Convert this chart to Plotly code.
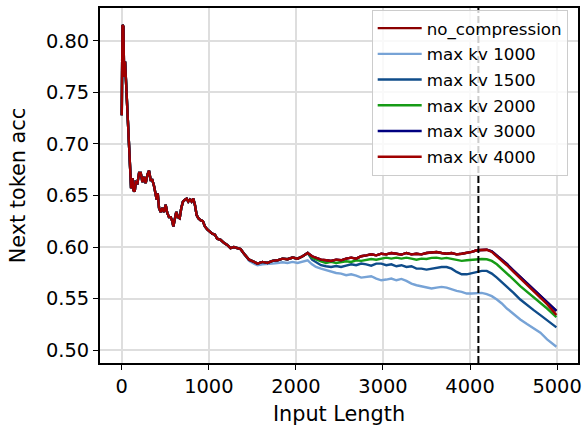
import plotly.graph_objects as go

# ---------------- data ----------------
# shared x-grid (input length)
len_early = [0, 8, 19, 27, 38, 50, 61, 69, 76, 84, 95, 107, 122, 134, 149, 160, 180, 199,
             218, 237, 256, 275, 294, 313, 332, 351, 371, 390, 401, 413, 428, 447, 466, 485,
             504, 523, 542, 562, 581, 592, 607, 626, 646, 665, 684, 703, 726, 745, 764, 783,
             802, 821, 840, 860, 879, 905, 932, 955, 982, 1008, 1039, 1070, 1096, 1135, 1173,
             1211, 1249, 1287, 1326, 1364, 1404]
len_mid = [1462, 1519, 1558, 1615, 1673, 1731, 1788, 1846, 1904, 1962, 2019, 2077, 2135]
len_tail = [2185, 2231, 2288, 2346, 2404, 2462, 2519, 2577, 2635, 2692, 2750, 2808, 2865,
            2923, 2981, 3038, 3096, 3154, 3212, 3269, 3327, 3385, 3442, 3500, 3558, 3615,
            3673, 3731, 3788, 3846, 3904, 3962, 4019, 4077, 4135, 4192, 4250, 4308, 4365,
            4423, 4500, 4577, 4654, 4731, 4808, 4885, 4992]

# accuracy common to every run at short lengths
acc_early = [0.728, 0.8155, 0.814, 0.765, 0.780, 0.756, 0.736, 0.717, 0.710, 0.697, 0.675,
             0.657, 0.667, 0.655, 0.654, 0.663, 0.662, 0.672, 0.672, 0.663, 0.668, 0.662,
             0.670, 0.674, 0.665, 0.665, 0.659, 0.650, 0.646, 0.652, 0.638, 0.634, 0.638,
             0.634, 0.641, 0.633, 0.629, 0.629, 0.625, 0.620, 0.626, 0.634, 0.629, 0.628,
             0.638, 0.644, 0.646, 0.647, 0.644, 0.646, 0.644, 0.647, 0.641, 0.631, 0.628,
             0.626, 0.625, 0.620, 0.617, 0.615, 0.613, 0.612, 0.608, 0.607, 0.604, 0.602,
             0.599, 0.600, 0.599, 0.598, 0.5935]
acc_mid_full = [0.5877, 0.5855, 0.5839, 0.5855, 0.5845, 0.5865, 0.5871, 0.5887, 0.5881,
                0.5897, 0.5887, 0.591, 0.5942]
acc_mid_kv1000 = [0.5865, 0.5839, 0.5823, 0.5832, 0.5832, 0.5839, 0.5845, 0.5852, 0.5845,
                  0.5855, 0.5845, 0.5861, 0.5871]

tail_no_compression = [0.591, 0.5897, 0.5877, 0.5871, 0.5865, 0.5877, 0.5871, 0.5887, 0.5897,
                       0.5887, 0.591, 0.5919, 0.5929, 0.5919, 0.5935, 0.5929, 0.5942, 0.5935,
                       0.5926, 0.5942, 0.5929, 0.5935, 0.5929, 0.5942, 0.5948, 0.5952, 0.5942,
                       0.5935, 0.5942, 0.5929, 0.5935, 0.5942, 0.5952, 0.5968, 0.5968, 0.5974,
                       0.5958, 0.5918, 0.5882, 0.5835, 0.5772, 0.571, 0.5648, 0.5594, 0.5532,
                       0.547, 0.538]
tail_kv1000 = [0.5832, 0.5806, 0.579, 0.5774, 0.5758, 0.5748, 0.5742, 0.5726, 0.5735, 0.5723,
               0.5703, 0.571, 0.5716, 0.5694, 0.5677, 0.5684, 0.5694, 0.5677, 0.569, 0.5671,
               0.5645, 0.5629, 0.5619, 0.5606, 0.5597, 0.5606, 0.5613, 0.5606, 0.5587, 0.5574,
               0.5565, 0.5548, 0.5548, 0.5548, 0.5555, 0.5542, 0.5523, 0.549, 0.5452, 0.5403,
               0.5348, 0.5297, 0.5252, 0.521, 0.5168, 0.5103, 0.5032]
tail_kv1500 = [0.5877, 0.5855, 0.5823, 0.5813, 0.5806, 0.5816, 0.5806, 0.5819, 0.5832, 0.5823,
               0.5839, 0.5832, 0.5819, 0.5839, 0.5839, 0.5823, 0.5832, 0.5813, 0.5823, 0.5806,
               0.5813, 0.579, 0.579, 0.5781, 0.579, 0.58, 0.5806, 0.5806, 0.579, 0.5758,
               0.5735, 0.5735, 0.5748, 0.5758, 0.5768, 0.5768, 0.5742, 0.5703, 0.5661, 0.5613,
               0.5555, 0.549, 0.5435, 0.5387, 0.5339, 0.529, 0.522]
tail_kv2000 = [0.5895, 0.5877, 0.5861, 0.5845, 0.5855, 0.5845, 0.5855, 0.5861, 0.5855, 0.5871,
               0.5865, 0.5877, 0.5884, 0.5877, 0.5887, 0.5897, 0.5887, 0.5897, 0.5887, 0.5897,
               0.5887, 0.5877, 0.5887, 0.5884, 0.5894, 0.5897, 0.5887, 0.5894, 0.5884, 0.5871,
               0.5865, 0.5871, 0.5877, 0.5877, 0.5884, 0.5881, 0.5865, 0.5832, 0.579, 0.5742,
               0.5684, 0.562, 0.5565, 0.5516, 0.5458, 0.5403, 0.532]
tail_kv3000 = list(tail_no_compression)
tail_kv4000 = [0.591, 0.5897, 0.5877, 0.5871, 0.5865, 0.5877, 0.5871, 0.5887, 0.5897, 0.5887,
               0.591, 0.5919, 0.5929, 0.5919, 0.5935, 0.5929, 0.5942, 0.5935, 0.5926, 0.5942,
               0.5929, 0.5935, 0.5929, 0.5942, 0.5948, 0.5952, 0.5942, 0.5935, 0.5942, 0.5929,
               0.5935, 0.5942, 0.5952, 0.5968, 0.5968, 0.5974, 0.5952, 0.591, 0.5871, 0.5823,
               0.5758, 0.5694, 0.5629, 0.5574, 0.551, 0.5445, 0.534]

context_limit = 4096
y_ticks = [0.50, 0.55, 0.60, 0.65, 0.70, 0.75, 0.80]
x_ticks = [0, 1000, 2000, 3000, 4000, 5000]

series_names = ["no_compression", "max kv 1000", "max kv 1500", "max kv 2000",
                "max kv 3000", "max kv 4000"]
series_colors = ["#8b0000", "#77a3d6", "#0f4c8a", "#169b16", "#000080", "#a00000"]

# ---------------- build ----------------
input_length = len_early + len_mid + len_tail
series_values = [
    acc_early + acc_mid_full + tail_no_compression,
    acc_early + acc_mid_kv1000 + tail_kv1000,
    acc_early + acc_mid_full + tail_kv1500,
    acc_early + acc_mid_full + tail_kv2000,
    acc_early + acc_mid_full + tail_kv3000,
    acc_early + acc_mid_full + tail_kv4000,
]
for v in series_values:
    assert len(v) == len(input_length), (len(v), len(input_length))

FONT = "DejaVu Sans"
fig = go.Figure()
for i, (name, col, vals) in enumerate(zip(series_names, series_colors, series_values)):
    fig.add_trace(go.Scatter(x=input_length, y=vals, mode="lines", name=name,
                             legendgroup=f"g{i}",
                             line=dict(color=col, width=2.4)))

fig.add_shape(type="line", xref="x", yref="paper", x0=context_limit, x1=context_limit,
              y0=0, y1=1, line=dict(color="black", width=2, dash="7px,3px"), layer="above")

axis_common = dict(showline=True, linecolor="black", linewidth=2, mirror=True,
                   ticks="outside", ticklen=5, tickwidth=1.3, tickcolor="black",
                   showgrid=True, gridcolor="#dedede", gridwidth=1.5, zeroline=False,
                   tickfont=dict(family=FONT, size=19.4, color="black"), automargin=False)

fig.update_layout(
    width=587, height=433,
    margin=dict(l=100, r=9, t=8, b=70),
    paper_bgcolor="white", plot_bgcolor="white",
    font=dict(family=FONT, color="black"),
    xaxis=dict(range=[-250, 5240], tickvals=x_ticks, ticktext=[str(t) for t in x_ticks],
               title=dict(text="Input Length", font=dict(family=FONT, size=20.8), standoff=9),
               **axis_common),
    yaxis=dict(range=[0.4874, 0.832], tickvals=y_ticks,
               ticktext=[f"{t:.2f}" for t in y_ticks],
               title=dict(text="Next token acc", font=dict(family=FONT, size=20.8), standoff=15),
               **axis_common),
    legend=dict(x=0.5684, y=0.995, xanchor="left", yanchor="top",
                bgcolor="rgba(255,255,255,0.8)", bordercolor="#cccccc", borderwidth=1,
                itemwidth=44, tracegroupgap=1,
                font=dict(family=FONT, size=16.7, color="black")),
    showlegend=True,
)

fig.write_html("out.html")
